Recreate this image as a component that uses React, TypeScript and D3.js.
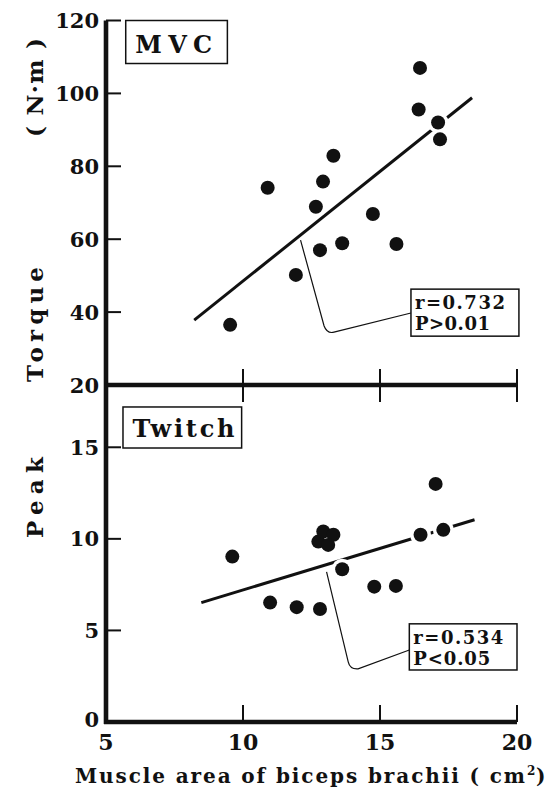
import React from "react";
import * as d3 from "d3";

// Muscle cross-sectional area (cm²) and torque data, two panels
const xTicks = [5, 10, 15, 20];
const torqueTicks = [20, 40, 60, 80, 100, 120];
const twitchTicks = [0, 5, 10, 15];

const mvcArea = [9.53, 10.9, 11.93, 12.66, 12.81, 12.92, 13.3, 13.62, 14.74, 15.6, 16.41, 16.46, 17.12, 17.19];
const mvcTorque = [36.5, 74.1, 50.2, 68.9, 57.0, 75.8, 82.9, 58.9, 66.9, 58.7, 95.6, 107.0, 92.0, 87.4];

const twitchArea = [9.61, 10.99, 11.96, 12.81, 12.75, 12.93, 13.3, 13.11, 13.62, 14.79, 15.58, 16.48, 17.03, 17.31];
const twitchTorque = [9.03, 6.52, 6.27, 6.17, 9.85, 10.4, 10.22, 9.67, 8.34, 7.39, 7.43, 10.22, 13.0, 10.49];

// Fitted regression lines: [x, y] endpoints
const mvcFit = [[8.22, 37.8], [18.36, 98.8]];
const twitchFit = [[8.48, 6.52], [18.45, 11.04]];

const mvcStats = ["r=0.732", "P>0.01"];
const twitchStats = ["r=0.534", "P<0.05"];

const W = 546;
const H = 795;
const FONT = "'DejaVu Serif', serif";
const INK = "#111";

const x = d3.scaleLinear().domain([5, 20]).range([106, 517]);
const yT = d3.scaleLinear().domain([20, 120]).range([385, 20.5]);
const yB = d3.scaleLinear().domain([0, 18.4]).range([722, 385]);

const DOT_R = 7;
const HALO_R = 10.5;

function fitAt(fit: number[][], v: number) {
  const [[x0, y0], [x1, y1]] = fit;
  return y0 + ((y1 - y0) * (v - x0)) / (x1 - x0);
}

function Scatter({ xs, ys, y, fit }: { xs: number[]; ys: number[]; y: d3.ScaleLinear<number, number>; fit: number[][] }) {
  const line = d3.line<number[]>().x((d) => x(d[0])).y((d) => y(d[1]));
  return (
    <g>
      <path d={line(fit) || ""} stroke={INK} strokeWidth={3} fill="none" />
      {xs.map((v, i) => (
        <circle key={"h" + i} cx={x(v)} cy={y(ys[i])} r={HALO_R} fill="#fff" />
      ))}
      {xs.map((v, i) => (
        <circle key={"d" + i} cx={x(v)} cy={y(ys[i])} r={DOT_R} fill={INK} />
      ))}
    </g>
  );
}

function Leader({ pts, y }: { pts: number[][]; y: d3.ScaleLinear<number, number> }) {
  // start, corner, curve control, curve end, box entry
  const p = d3.path();
  p.moveTo(x(pts[0][0]), y(pts[0][1]));
  p.lineTo(x(pts[1][0]), y(pts[1][1]));
  p.quadraticCurveTo(x(pts[2][0]), y(pts[2][1]), x(pts[3][0]), y(pts[3][1]));
  p.lineTo(x(pts[4][0]), y(pts[4][1]));
  return <path d={p.toString()} stroke={INK} strokeWidth={1.2} fill="none" />;
}

function StatBox({ box, y, lines, lens }: { box: number[][]; y: d3.ScaleLinear<number, number>; lines: string[]; lens: number[] }) {
  const left = x(box[0][0]);
  const right = x(box[1][0]);
  const top = y(box[0][1]);
  const bottom = y(box[1][1]);
  return (
    <g>
      <rect x={left} y={top} width={right - left} height={bottom - top} fill="#fff" stroke={INK} strokeWidth={1.5} />
      <text x={left + 4} y={top + 20} fontFamily={FONT} fontWeight="bold" fontSize={18} fill={INK} textLength={lens[0]} lengthAdjust="spacing">
        {lines[0]}
      </text>
      <text x={left + 4} y={top + 41} fontFamily={FONT} fontWeight="bold" fontSize={18} fill={INK} textLength={lens[1]} lengthAdjust="spacing">
        {lines[1]}
      </text>
    </g>
  );
}

function TitleBox({ box, y, label, len }: { box: number[][]; y: d3.ScaleLinear<number, number>; label: string; len: number }) {
  const left = x(box[0][0]);
  const right = x(box[1][0]);
  const top = y(box[0][1]);
  const bottom = y(box[1][1]);
  return (
    <g>
      <rect x={left} y={top} width={right - left} height={bottom - top} fill="#fff" stroke={INK} strokeWidth={1.5} />
      <text x={left + 9.5} y={bottom - 11} fontFamily={FONT} fontWeight="bold" fontSize={24} fill={INK} textLength={len} lengthAdjust="spacing">
        {label}
      </text>
    </g>
  );
}

export default function App() {
  const tickW = 2;
  const tickL = 15;
  const yAxisX = x(5);
  const midY = yT(20);
  const botY = yB(0);

  return (
    <svg width={W} height={H} viewBox={`0 0 ${W} ${H}`} style={{ position: "absolute", left: 0, top: 0, background: "#fff" }}>
      <rect width={W} height={H} fill="#fff" />

      {/* Scatter marks first so axes sit on top */}
      <Scatter xs={mvcArea} ys={mvcTorque} y={yT} fit={mvcFit} />
      <Scatter xs={twitchArea} ys={twitchTorque} y={yB} fit={twitchFit} />

      {/* Leaders from fitted line to the statistics boxes */}
      <Leader
        y={yT}
        pts={[[12.1, fitAt(mvcFit, 12.1) - 1.4], [12.96, 36.2], [13.07, 34.0], [13.32, 34.5], [16.13, 39.75]]}
      />
      <Leader
        y={yB}
        pts={[[13.05, fitAt(twitchFit, 13.05) - 0.4], [13.84, 3.28], [13.9, 2.87], [14.2, 2.9], [16.07, 3.93]]}
      />

      <StatBox y={yT} box={[[16.13, 46.3], [20.07, 33.4]]} lines={mvcStats} lens={[90, 75]} />
      <StatBox y={yB} box={[[16.07, 5.36], [20.0, 2.84]]} lines={twitchStats} lens={[90, 77]} />

      <TitleBox y={yT} box={[[5.72, 120], [9.43, 108.2]]} label="M V C" len={77} />
      <TitleBox y={yB} box={[[5.62, 17.2], [9.95, 14.96]]} label="Twitch" len={102} />

      {/* Axes */}
      <line x1={yAxisX} x2={yAxisX} y1={yT(120)} y2={botY + 2} stroke={INK} strokeWidth={4.6} />
      <line x1={yAxisX} x2={x(20)} y1={midY} y2={midY} stroke={INK} strokeWidth={4.5} />
      <line x1={yAxisX - 2} x2={x(20)} y1={botY} y2={botY} stroke={INK} strokeWidth={4.5} />

      {/* y ticks - torque */}
      {torqueTicks.map((t) => (
        <g key={"tt" + t}>
          {t !== 20 && <line x1={yAxisX} x2={yAxisX + tickL} y1={yT(t)} y2={yT(t)} stroke={INK} strokeWidth={tickW} />}
          <text x={99} y={yT(t)} dy="0.36em" textAnchor="end" fontFamily={FONT} fontWeight="bold" fontSize={21} fill={INK}>
            {t}
          </text>
        </g>
      ))}
      {/* y ticks - twitch */}
      {twitchTicks.map((t) => (
        <g key={"tw" + t}>
          {t !== 0 && <line x1={yAxisX} x2={yAxisX + tickL} y1={yB(t)} y2={yB(t)} stroke={INK} strokeWidth={tickW} />}
          <text x={99} y={yB(t) - (t === 0 ? 3 : 0)} dy="0.36em" textAnchor="end" fontFamily={FONT} fontWeight="bold" fontSize={21} fill={INK}>
            {t}
          </text>
        </g>
      ))}

      {/* x ticks on the shared middle line and the bottom axis */}
      {xTicks
        .filter((t) => t !== 5)
        .map((t) => (
          <g key={"xt" + t}>
            <line x1={x(t)} x2={x(t)} y1={midY - 16} y2={midY + 17} stroke={INK} strokeWidth={tickW} />
            <line x1={x(t)} x2={x(t)} y1={botY - 17} y2={botY} stroke={INK} strokeWidth={tickW} />
          </g>
        ))}
      {xTicks.map((t) => (
        <text key={"xl" + t} x={x(t)} y={750} textAnchor="middle" fontFamily={FONT} fontWeight="bold" fontSize={22} fill={INK}>
          {t}
        </text>
      ))}

      {/* x title */}
      <text x={75} y={783} fontFamily={FONT} fontWeight="bold" fontSize={20} fill={INK} textLength={450} lengthAdjust="spacing">
        Muscle area of biceps brachii ( cm
      </text>
      <text x={527} y={775} fontFamily={FONT} fontWeight="bold" fontSize={12} fill={INK}>
        2
      </text>
      <text x={536} y={783} fontFamily={FONT} fontWeight="bold" fontSize={20} fill={INK}>
        )
      </text>

      {/* y title, reading bottom to top */}
      <text transform={`translate(43,497.5) rotate(-90)`} textAnchor="middle" fontFamily={FONT} fontWeight="bold" fontSize={23} fill={INK} textLength={81} lengthAdjust="spacing">
        Peak
      </text>
      <text transform={`translate(43,324.5) rotate(-90)`} textAnchor="middle" fontFamily={FONT} fontWeight="bold" fontSize={23} fill={INK} textLength={115} lengthAdjust="spacing">
        Torque
      </text>
      <text transform={`translate(43,87.5) rotate(-90)`} textAnchor="middle" fontFamily={FONT} fontWeight="bold" fontSize={23} fill={INK} textLength={99} lengthAdjust="spacing">
        ( N·m )
      </text>
    </svg>
  );
}
